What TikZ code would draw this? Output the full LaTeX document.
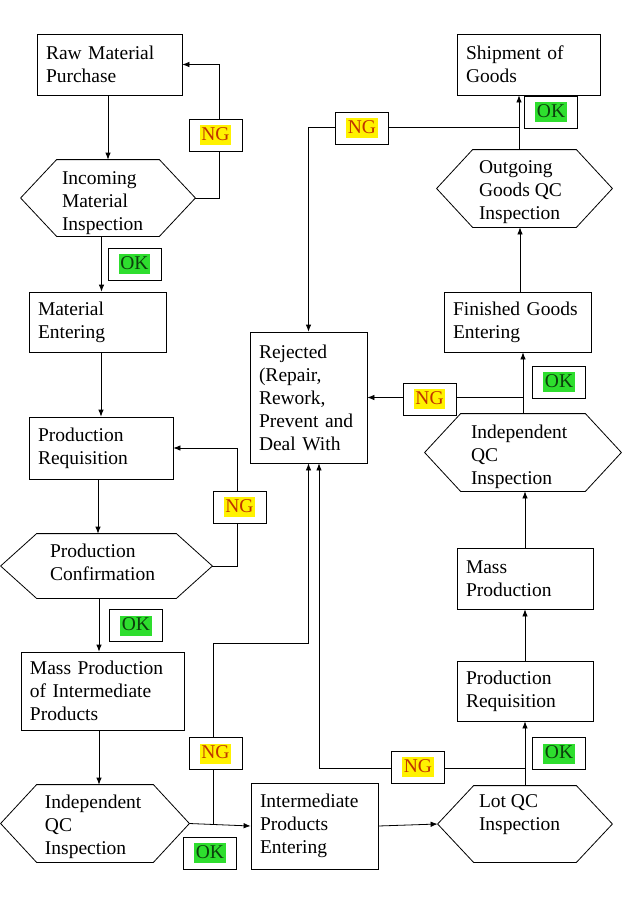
\documentclass[tikz,border=0pt]{standalone}
\usepackage{fontspec}
\setmainfont{Liberation Serif}
\usetikzlibrary{arrows.meta}

\definecolor{ngred}{RGB}{192,52,0}
\definecolor{ngyellow}{RGB}{255,242,0}
\definecolor{okdark}{RGB}{12,64,12}
\definecolor{okgreen}{RGB}{46,222,46}
\newcommand{\hilite}[3]{{\setlength{\fboxsep}{1.5pt}\colorbox{#1}{\rule[-3.5pt]{0pt}{17pt}\textcolor{#2}{#3}}}}

\begin{document}
\begin{tikzpicture}
  [x=1pt, y=-1pt, >={Latex[length=7pt,width=5.5pt]}, line width=0.8pt,
   font=\fontsize{19.5}{23}\selectfont,
   box/.style={draw, align=left, inner xsep=9pt, inner ysep=0pt},
   hex/.style={inner sep=0pt},
   hextext/.style={anchor=west, align=left, inner sep=0pt},
   tag/.style={draw, fill=white, minimum width=53pt, minimum height=32pt, inner sep=0pt}]

  \useasboundingbox (0,0) rectangle (639,911);

  % left column
  \node [box, text width=127pt, minimum height=61pt] (raw) at (109.5,64.5) {Raw Material\\Purchase};
  \node [hex, minimum width=174pt, minimum height=76pt] (imi) at (108,198) {};
  \node [box, text width=119pt, minimum height=60pt] (mat) at (97.5,322) {Material\\Entering};
  \node [box, text width=126pt, minimum height=62pt] (preqa) at (101,448) {Production\\Requisition};
  \node [hex, minimum width=211pt, minimum height=64pt] (pc) at (106.5,566) {};
  \node [box, text width=145pt, minimum height=78pt] (mpi) at (102.5,691) {Mass Production\\of Intermediate\\Products};
  \node [hex, minimum width=188pt, minimum height=77pt] (iqca) at (95,823.5) {};

  % middle
  \node [box, text width=99pt, minimum height=131pt] (rej) at (308.5,397.5) {Rejected\\(Repair,\\Rework,\\Prevent and\\Deal With};
  \node [box, text width=109pt, minimum height=86pt] (ipe) at (314.5,826) {Intermediate\\Products\\Entering};

  % right column
  \node [box, text width=125pt, minimum height=61pt] (ship) at (528.5,64.5) {Shipment of\\Goods};
  \node [hex, minimum width=175pt, minimum height=77pt] (ogi) at (524.5,188.5) {};
  \node [box, text width=129pt, minimum height=60pt] (fge) at (517.5,322) {Finished Goods\\Entering};
  \node [hex, minimum width=196pt, minimum height=77pt] (iqcb) at (523,452.5) {};
  \node [box, text width=118pt, minimum height=61pt] (mp) at (525,578.5) {Mass\\Production};
  \node [box, text width=118pt, minimum height=60pt] (preqb) at (525,691) {Production\\Requisition};
  \node [hex, minimum width=174pt, minimum height=76pt] (lot) at (525,824) {};

  \foreach \n in {imi,pc,iqca,ogi,iqcb,lot}
    \draw (\n.west) -- ([xshift=36pt]\n.north west) -- ([xshift=-36pt]\n.north east) -- (\n.east)
      -- ([xshift=-36pt]\n.south east) -- ([xshift=36pt]\n.south west) -- cycle;

  \node [hextext] (imi-t) at ([xshift=41pt, yshift=-5pt]imi.west) {Incoming\\Material\\Inspection};
  \node [hextext] (pc-t) at ([xshift=49pt, yshift=3.5pt]pc.west) {Production\\Confirmation};
  \node [hextext] (iqca-t) at ([xshift=44pt, yshift=-3pt]iqca.west) {Independent\\QC\\Inspection};
  \node [hextext] (ogi-t) at ([xshift=42pt, yshift=-4pt]ogi.west) {Outgoing\\Goods QC\\Inspection};
  \node [hextext] (iqcb-t) at ([xshift=46pt, yshift=-4pt]iqcb.west) {Independent\\QC\\Inspection};
  \node [hextext] (lot-t) at ([xshift=41pt, yshift=9.5pt]lot.west) {Lot QC\\Inspection};

  % left flow
  \draw [->] (raw.south -| imi.north) -- (imi.north);
  \draw [->] (imi.east) -- ++(24,0) |- (raw.east);
  \draw [->] ([xshift=4pt]mat.north |- imi.south) -- ([xshift=4pt]mat.north);
  \draw [->] (mat.south -| preqa.north) -- (preqa.north);
  \draw [->] ([xshift=-3pt]preqa.south) -- ([xshift=-3pt]preqa.south |- pc.north);
  \draw [->] (pc.east) -- ++(25,0) |- (preqa.east);
  \draw [->] ([xshift=-3.5pt]mpi.north |- pc.south) -- ([xshift=-3.5pt]mpi.north);
  \draw [->] ([xshift=-3.5pt]mpi.south) -- ([xshift=-3.5pt]mpi.south |- iqca.north);
  \draw [->] (iqca.east) -- (ipe.west);
  \draw [->] ([xshift=24pt]iqca.east) -- ++(0,-180) -| (rej.south);

  % right flow
  \draw [->] (ipe.east) -- (lot.west);
  \draw [->] (lot.north) -- (preqb.south);
  \draw [->] ([yshift=17pt]lot.north) -| ([xshift=10.5pt]rej.south);
  \draw [->] (preqb.north) -- (mp.south);
  \draw [->] (mp.north) -- (mp.north |- iqcb.south);
  \draw [->] (iqcb.north) -- (iqcb.north |- fge.south);
  \draw [->] (iqcb.north |- rej.east) -- (rej.east);
  \draw [->] ([xshift=2.5pt]fge.north) -- ([xshift=2.5pt]fge.north |- ogi.south);
  \draw [->] ([xshift=-5.5pt]ogi.north) -- ([xshift=-5.5pt]ogi.north |- ship.south);
  \draw [->] ([xshift=-5.5pt, yshift=22pt]ogi.north) -| (rej.north);

  \foreach \i/\x/\y in {1/215.5/135, 2/239.5/507, 3/215.5/753.5, 4/362/128, 5/429.5/399, 6/418/767}
    \node [tag] (ng\i) at (\x,\y) {\hilite{ngyellow}{ngred}{NG}};
  \foreach \i/\x/\y in {1/134.5/264, 2/136/625.5, 3/210/853, 4/551/112, 5/559/382, 6/559/753.5}
    \node [tag] (ok\i) at (\x,\y) {\hilite{okgreen}{okdark}{OK}};
\end{tikzpicture}
\end{document}
